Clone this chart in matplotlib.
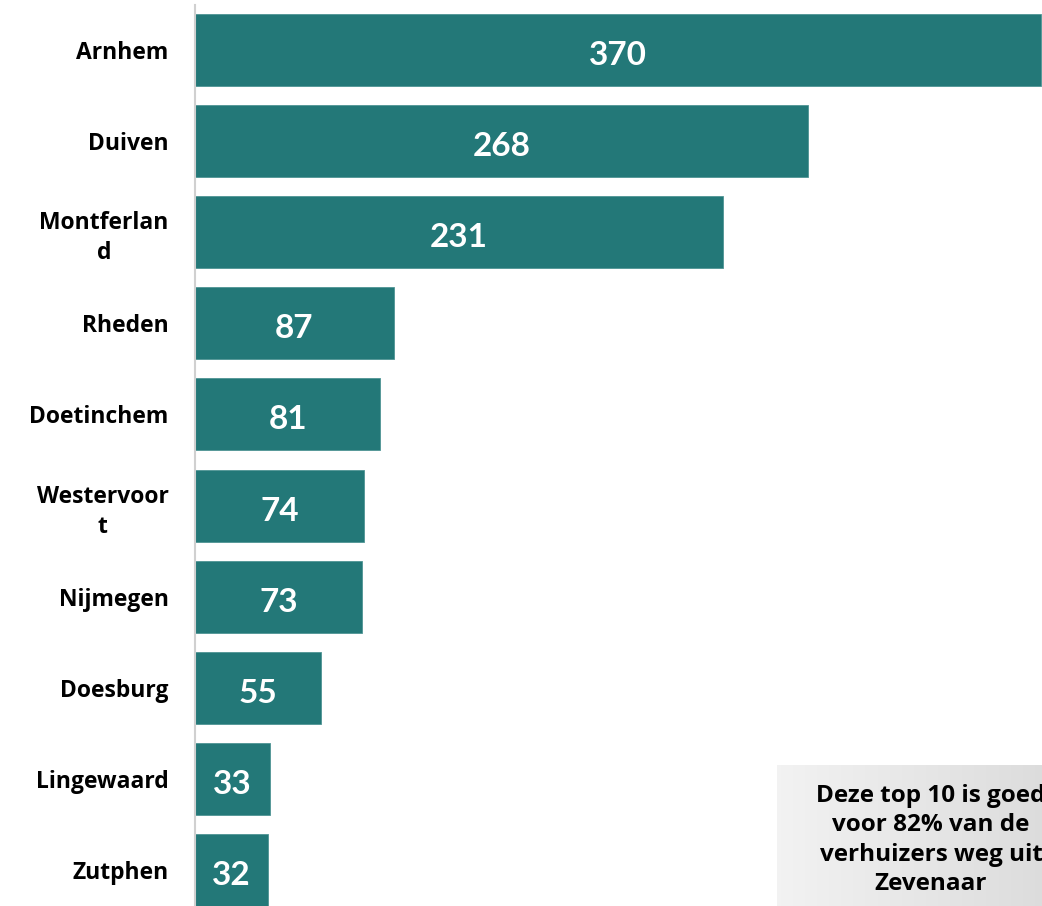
import numpy as np
import matplotlib.pyplot as plt

# Top 10 gemeenten waar verhuizers uit Zevenaar naartoe gaan
gemeenten = ['Arnhem', 'Duiven', 'Montferlan\nd', 'Rheden', 'Doetinchem',
             'Westervoor\nt', 'Nijmegen', 'Doesburg', 'Lingewaard', 'Zutphen']
aantallen = [370, 268, 231, 87, 81, 74, 73, 55, 33, 32]

kleur = '#237878'
plt.rcParams['font.family'] = ['Lato', 'DejaVu Sans']

fig = plt.figure(figsize=(10.42, 9.06), dpi=100)
ax = fig.add_axes([195 / 1042, 0, 847 / 1042, 1 - 5 / 906])

y = np.arange(len(gemeenten))
bars = ax.barh(y, aantallen, height=0.79, color=kleur, edgecolor='#4f9494', linewidth=0.6)

for i, v in enumerate(aantallen):
    ax.text(v / 2, i + 0.06, str(v), ha='center', va='center', color='white',
            fontsize=24, fontweight='bold')

ax.set_xlim(0, 370.3)
ax.set_ylim(9.39, -0.49)
ax.set_yticks(y)
ax.set_yticklabels(gemeenten, fontsize=16.5, fontweight='bold', multialignment='center',
                   family=['Open Sans', 'DejaVu Sans'], linespacing=1.35)
ax.tick_params(axis='y', length=0, pad=19)
ax.set_xticks([])
for s in ['top', 'right', 'bottom']:
    ax.spines[s].set_visible(False)
ax.spines['left'].set_color('#d0d0d0')
ax.spines['left'].set_linewidth(1.5)

# grijs kader met verloop rechtsonder
kader = fig.add_axes([777 / 1042, 0, 310 / 1042, 141 / 906])
verloop = np.linspace(0.95, 0.85, 200).reshape(1, -1)
kader.imshow(np.dstack([verloop, verloop, verloop]), aspect='auto', extent=[0, 1, 0, 1])
kader.set_axis_off()
fig.text(931 / 1042, 66 / 906, 'Deze top 10 is goed\nvoor 82% van de\nverhuizers weg uit\nZevenaar',
         ha='center', va='center', fontsize=17.5, fontweight='bold', linespacing=1.28,
         family=['Open Sans', 'DejaVu Sans'])

fig.savefig('out.png', dpi=100)
